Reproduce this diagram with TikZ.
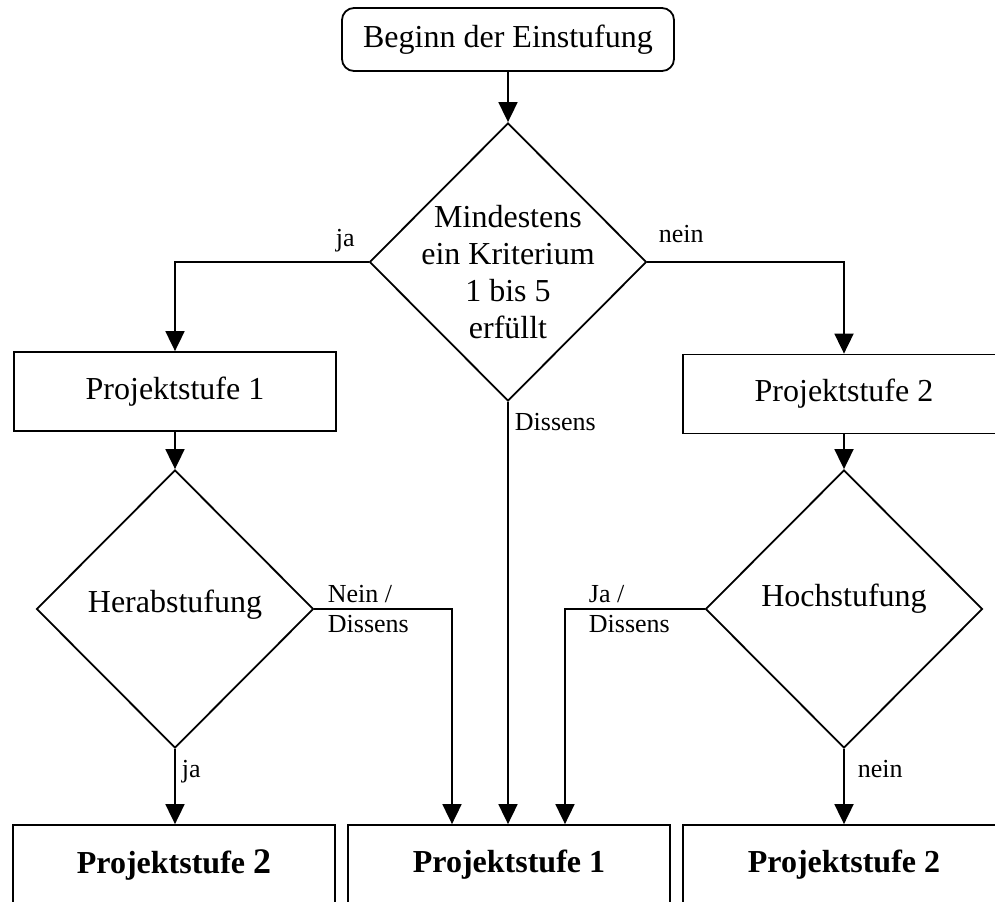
\documentclass[tikz,border=0pt]{standalone}
\usepackage{fontspec}
\setmainfont{Liberation Serif}
\usetikzlibrary{shapes.geometric,arrows.meta}

\begin{document}
\begin{tikzpicture}[x=.5pt,y=-.5pt,line width=.9pt,
  font=\fontsize{16}{18.4}\selectfont,
  box/.style={draw, minimum width=161pt, minimum height=39.5pt, inner sep=0pt},
  dec/.style={draw, diamond, minimum width=138.5pt, minimum height=139pt, inner sep=0pt},
  lbl/.style={inner sep=0pt, font=\fontsize{13}{15}\selectfont},
  arr/.style={-{Triangle[length=10pt,width=9.5pt]}}]
\useasboundingbox (0,0) rectangle (995,901);
\node[draw, rounded corners=6pt, minimum width=166pt, minimum height=31.5pt] (start) at (508,39.5) {Beginn der Einstufung};
\node[dec] (d1) at (508,262) {};
\node[align=center, inner sep=0pt] (d1t) at (508,272) {Mindestens\\ein Kriterium\\1 bis 5\\erfüllt};
\node[box] (p1) at (175,391.5) {Projektstufe 1};
\node[box] (p2) at (844,394) {Projektstufe 2};
\node[dec] (d2) at (175,609) {};
\node (d2t) at (175,605) {Herabstufung};
\node[dec] (d3) at (844,609) {};
\node (d3t) at (844,599) {Hochstufung};
\node[box, minimum height=40pt] (r1) at (174,865) {\textbf{Projektstufe {\fontsize{18}{20}\selectfont 2}}};
\node[box, minimum height=40pt] (r2) at (509,865) {\textbf{Projektstufe 1}};
\node[box, minimum height=40pt] (r3) at (844,865) {\textbf{Projektstufe 2}};
% Beschriftungen
\node[lbl, anchor=base west] (lja) at (335,246) {ja};
\node[lbl, anchor=base west] (lnein) at (658,242) {nein};
\node[lbl, anchor=base west] (ldis) at (514,430) {Dissens};
\node[lbl, anchor=north west, align=left] (lnd) at (327,584) {Nein /\\Dissens};
\node[lbl, anchor=north west, align=left] (ljd) at (588,584) {Ja /\\Dissens};
\node[lbl, anchor=base west] (lja2) at (181,777) {ja};
\node[lbl, anchor=base west] (lnein2) at (857,777) {nein};
% Pfeile
\draw[arr] (start) -- (d1);
\draw[arr] (d1.west) -| (p1.north);
\draw[arr] (d1.east) -| (p2.north);
\draw[arr] (p1) -- (d2);
\draw[arr] (p2) -- (d3);
\draw[arr] (d1.south) -- (d1.south |- r2.north);
\draw[arr] (d2.east) -| ([xshift=-28.5pt]r2.north);
\draw[arr] (d3.west) -| ([xshift=28pt]r2.north);
\draw[arr] (d2.south) -- (d2.south |- r1.north);
\draw[arr] (d3.south) -- (d3.south |- r3.north);
\end{tikzpicture}
\end{document}
